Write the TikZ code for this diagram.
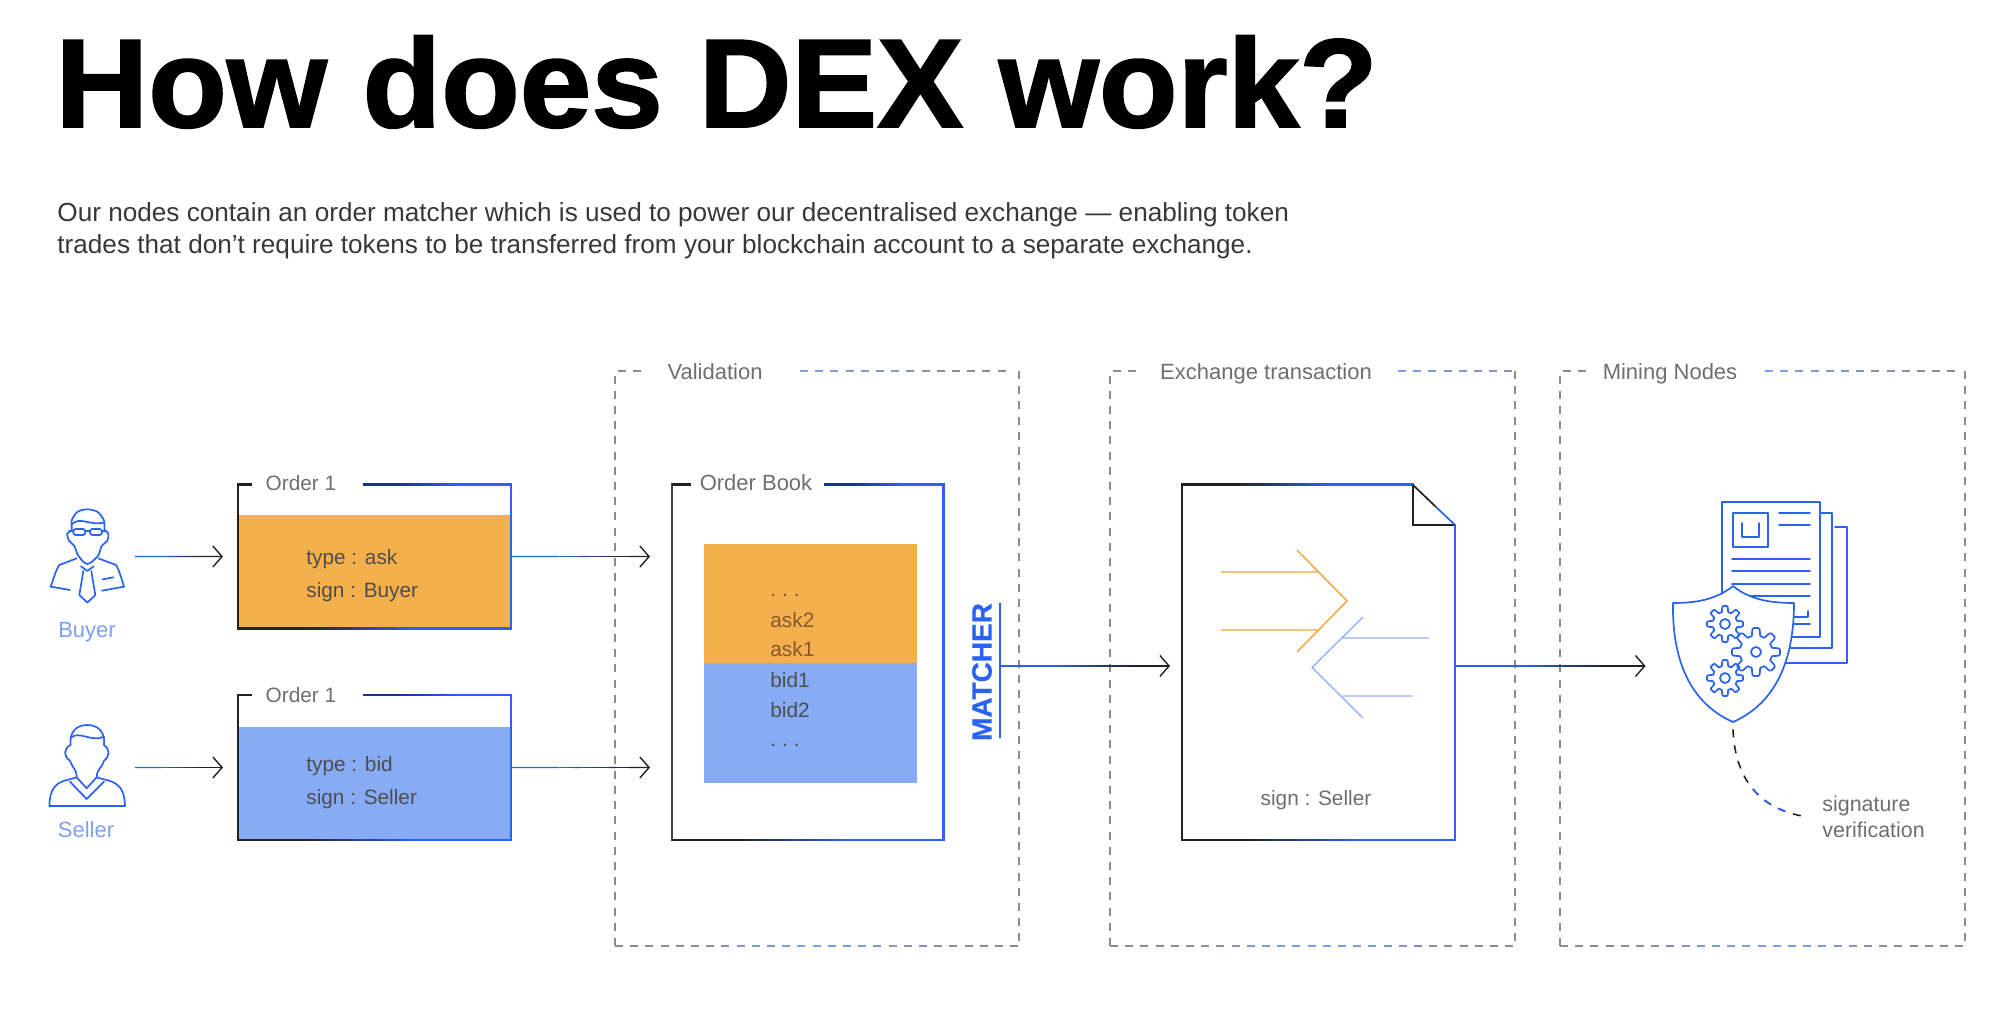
\documentclass[tikz,border=0pt]{standalone}
\usepackage{fontspec}
\setmainfont{Liberation Sans}
\newfontfamily\titlefont{Liberation Sans}[BoldFeatures={FakeBold=1.5,FakeStretch=1.021}]
\newfontfamily\matchfont{Liberation Sans}[BoldFeatures={FakeBold=0.6}]
\usetikzlibrary{arrows.meta,calc}
\definecolor{bl}{HTML}{2A63F2}
\definecolor{lbl}{HTML}{7FA0F2}
\definecolor{ink}{HTML}{222222}
\definecolor{navy}{HTML}{1A2F9E}
\definecolor{dgray}{HTML}{8C8C8C}
\definecolor{orangefill}{HTML}{F5B04E}
\definecolor{bluefill}{HTML}{88ABF6}
\definecolor{chevor}{HTML}{F5A33B}
\definecolor{chevbl}{HTML}{93B3F8}
\definecolor{lab}{HTML}{6E6E6E}
\tikzset{
 px/.style={x=0.5pt,y=-0.5pt},
 conn/.style={line width=0.65pt},
 tipped/.style={-{Straight Barb[length=4.6pt,width=10.5pt,line width=0.7pt]}},
 icon/.style={draw=bl,line width=0.85pt,line join=round,line cap=round},
 dbox/.style={draw=dgray,line width=0.7pt,dash pattern=on 4pt off 3.6pt},
 ttl/.style={inner sep=0pt,anchor=base,font=\fontsize{11}{12}\selectfont,text=lab},
 body/.style={inner sep=0pt,anchor=base west,align=left,font=\fontsize{10.4}{16.5}\selectfont,text=#1},
 hbox/.style={inner sep=0pt,outer sep=0pt,anchor=north west},
 stock/.style={inner sep=0pt,anchor=base west,font=\fontsize{10.4}{12}\selectfont,text=#1},
}
% horizontal box side, colour changing along it in small pieces
\newcommand{\hgrad}[5]{%
 \foreach \i in {0,...,23}{
  \pgfmathsetmacro{\ga}{#1+(#2-#1)*\i/24}
  \pgfmathsetmacro{\gb}{#1+(#2-#1)*(\i+1.1)/24}
  \pgfmathtruncatemacro{\pp}{100*min(1,max(0,(\i/24-0.22)/0.4))}
  \draw[line width=1.1pt,draw=#5!\pp!#4] (\ga,#3) -- (\gb,#3);}}
\newcommand{\vside}[4]{\fill[#4] (#1-1.1,#2) rectangle (#1+1.1,#3);}
% connector: blue, gradient in pieces, then dark with barb
\newcommand{\gradconn}[4]{%
 \draw[conn,draw=bl] (#1) -- ($(#1)!#3!(#2)$);
 \foreach \i in {0,...,9}{
  \pgfmathsetmacro{\ga}{#3+(#4-#3)*\i/10}
  \pgfmathsetmacro{\gb}{#3+(#4-#3)*(\i+1.1)/10}
  \pgfmathtruncatemacro{\pp}{(\i+0.5)*10}
  \draw[conn,draw=ink!\pp!bl] ($(#1)!\ga!(#2)$) -- ($(#1)!\gb!(#2)$);}
 \draw[conn,draw=ink,tipped] ($(#1)!#4!(#2)$) -- (#2);}
% dashes along a horizontal, coloured toward blue by a bump
\newcommand{\dashrow}[5]{% x1,x2,y,colour expression in \xx, colour
 \pgfmathsetmacro{\nxt}{#1+15.2}
 \pgfmathsetmacro{\lastx}{#2}
 \foreach \xx in {#1,\nxt,...,\lastx}{
  \pgfmathtruncatemacro{\pp}{#4}
  \draw[line width=0.7pt,draw=#5!\pp!dgray] (\xx,#3) -- (\xx+8,#3);}}
\newcommand{\gear}[4]{%
 \draw[icon,shift={(#1,#2)}] plot[domain=0:360,samples=121,smooth] (\x:{#3*(0.84+0.16*min(1,max(-1,2.4*cos(8*\x))))}) -- cycle;
 \draw[icon] (#1,#2) circle[radius=#4];}
\begin{document}
\begin{tikzpicture}[px]
\useasboundingbox (0,0) rectangle (1999,1020);
% title and intro
\node[inner sep=0pt,anchor=base west,font=\titlefont\fontsize{63}{66}\bfseries\selectfont,text=black] (title) at (55,127) {How does DEX work?};
\node[body=ink!90,font=\fontsize{13.08}{16}\selectfont] (intro) at (57,254) {Our nodes contain an order matcher which is used to power our decentralised exchange — enabling token\\trades that don’t require tokens to be transferred from your blockchain account to a separate exchange.};

% dashed regions
\foreach \l/\r/\sa/\sb/\tname/\tx/\lab in {615/1019/641/800/val/715/Validation,1110/1515/1137/1398/exg/1266/Exchange transaction,1560/1965/1587/1765/min/1670/Mining Nodes}{
 \draw[dbox] (\l,946) -- (\l,371) -- (\sa,371);
 \draw[dbox] (\r,371) -- (\r,946);
 \dashrow{\sb}{\r-8}{371}{max(0,90-(\xx-\sb)*0.5)}{lbl}
 \dashrow{\l}{\r-8}{946}{max(0,90-abs(\xx-(\l+\r)/2)*0.6)}{lbl}
 \node[ttl] (\tname) at (\tx,380) {\lab};
}

% order boxes
\fill[orangefill] (238,515) rectangle (511,628.6);
\fill[bluefill] (238,727) rectangle (511,840);
\foreach \nm/\t/\b/\stub in {orderA/484.5/628.6/a,orderB/695/840/b}{
 \node[hbox,minimum width=136.5pt,minimum height={(\b-\t)*0.5pt}] (\nm) at (238,\t) {};
 \vside{238}{\t-1.1}{\b+1.1}{ink}
 \fill[ink] (238,\t-1.1) rectangle (252,\t+1.1);
 \hgrad{363}{511}{\t}{navy}{bl}
 \vside{511}{\t-1.1}{\b+1.1}{bl}
 \hgrad{238}{511}{\b}{ink}{bl}
}
\node[ttl,font=\fontsize{10.4}{12}\selectfont] (orderAt) at (301,491) {Order 1};
\node[ttl,font=\fontsize{10.4}{12}\selectfont] (orderBt) at (301,703) {Order 1};
\node[body=ink!80] (orderAx) at (306,598) {type : ask\\sign : Buyer};
\node[body=ink!80] (orderBx) at (306,805) {type : bid\\sign : Seller};

% buyer icon
\node[inner sep=0pt,minimum width=37pt,minimum height=47pt] (buyer) at (87.5,556.5) {};
\begin{scope}[shift={(30,490)},x=0.16667pt,y=-0.16667pt]
 \draw[icon] plot[smooth cycle,tension=.55] coordinates {(172,222)(145,197)(133,168)(117,152)(112,130)(125,120)(125,92)(142,66)(172,58)(203,66)(222,92)(224,120)(235,130)(232,152)(215,168)(204,197)};
 \draw[icon] (125,103) .. controls (150,78) and (180,108) .. (222,98);
 \draw[icon,rounded corners=1.2pt] (130,117) rectangle (166,135);
 \draw[icon,rounded corners=1.2pt] (180,117) rectangle (216,135);
 \draw[icon] (166,122) -- (180,122) (118,122) -- (130,122) (216,122) -- (228,122);
 \draw[icon] (140,205) -- (88,225) .. controls (75,245) and (70,270) .. (62,290) -- (120,300);
 \draw[icon] (205,205) -- (258,225) .. controls (270,245) and (275,270) .. (282,290) -- (216,302);
 \draw[icon] (153,229) -- (172,243) -- (191,229) (160,243) -- (148,315) -- (172,338) -- (196,315) -- (184,243);
 \draw[icon] (218,268) -- (250,262);
\end{scope}
\node[inner sep=0pt,font=\fontsize{11}{12}\selectfont,text=lbl] (buyerl) at (87,632) {Buyer};

% seller icon
\node[inner sep=0pt,minimum width=37pt,minimum height=47pt] (seller) at (87.5,767.5) {};
\begin{scope}[shift={(30,700)},x=0.16667pt,y=-0.16667pt]
 \draw[icon] (140,232) .. controls (142,212) and (128,205) .. (120,182) .. controls (100,170) and (100,145) .. (122,135) .. controls (118,100) and (135,75) .. (172,75) .. controls (208,75) and (226,100) .. (222,135) .. controls (240,145) and (240,170) .. (222,182) .. controls (215,205) and (198,212) .. (200,232) -- (170,265) -- cycle;
 \draw[icon] (124,112) .. controls (150,92) and (185,128) .. (222,110);
 \draw[icon] (140,232) .. controls (100,245) and (60,240) .. (58,318) -- (285,318) .. controls (283,240) and (240,245) .. (200,232);
 \draw[icon] (120,245) -- (170,297) -- (222,245);
\end{scope}
\node[inner sep=0pt,font=\fontsize{11}{12}\selectfont,text=lbl] (sellerl) at (86,830) {Seller};

% order book
\node[hbox,minimum width=135.75pt,minimum height=177.75pt] (book) at (672,484.5) {};
\vside{672}{483.4}{841.1}{ink!85}
\fill[ink] (672,483.4) rectangle (691,485.6);
\hgrad{824}{943.5}{484.5}{navy}{bl}
\vside{943.5}{483.4}{841.1}{bl}
\hgrad{672}{943.5}{840}{ink}{bl}
\node[ttl] (bookt) at (756,491) {Order Book};
\fill[orangefill] (704,544.5) rectangle (917,663);
\fill[bluefill] (704,663) rectangle (917,783);
\foreach \nm/\yy/\col/\tx in {o0/597/brown!70!black/{.\hspace{3pt}.\hspace{3pt}.},o1/628/brown!70!black/ask2,o2/657/brown!70!black/ask1,o3/688/ink!80/bid1,o4/718/ink!80/bid2,o5/747/ink!80/{.\hspace{3pt}.\hspace{3pt}.}}{
 \node[stock=\col] (\nm) at (770,\yy) {\tx};
}

% matcher
\node[inner sep=0pt,rotate=90,font=\matchfont\fontsize{14}{14}\bfseries\selectfont,text=bl] (matcher) at (982,672) {MATCHER};
\draw[line width=0.7pt,draw=bl] (1000,603) -- (1000,738);
\coordinate (matcherOut) at (1000,666);

% transaction document
\node[hbox,minimum width=136.5pt,minimum height=177.75pt] (doc) at (1182,484.5) {};
\vside{1182}{483.4}{841.1}{ink}
\hgrad{1182}{1413}{484.5}{ink}{bl}
\vside{1455}{524}{841.1}{bl}
\hgrad{1182}{1455}{840}{ink}{bl}
\draw[line width=0.85pt,draw=ink] (1413,485) -- (1413,525) -- (1455,525);
\draw[line width=0.85pt,draw=ink] (1413,485) -- (1436,507);
\draw[line width=0.85pt,draw=bl] (1436,507) -- (1455,525);
\draw[line width=0.7pt,draw=chevor] (1221,572) -- (1318,572) (1221,630) -- (1318,630) (1297,550) -- (1347,601) -- (1297,652);
\draw[line width=0.7pt,draw=chevbl] (1429,638) -- (1342,638) (1413,696) -- (1343,696) (1363,617) -- (1312,667.5) -- (1363,718);
\node[ttl,font=\fontsize{10.4}{12}\selectfont] (docs) at (1316,806) {sign : Seller};

% documents behind the shield
\draw[icon] (1835,527) -- (1847,527) -- (1847,663) -- (1785,663);
\draw[icon] (1820,513) -- (1832,513) -- (1832,648) -- (1785,648);
\draw[icon] (1722,600) -- (1722,502) -- (1820,502) -- (1820,637) -- (1785,637);
\draw[icon] (1733,513) rectangle (1768,547);
\draw[icon] (1742,523) -- (1742,537) -- (1759,537) -- (1759,523);
\draw[icon] (1779,513) -- (1810,513) (1779,525) -- (1810,525);
\draw[icon] (1732,559) -- (1810,559) (1732,571) -- (1810,571) (1732,584) -- (1810,584) (1732,596) -- (1810,596);
\draw[icon] (1790,617) -- (1808,617) -- (1808,611) (1790,624) -- (1810,624);
% shield
\draw[icon,fill=white] (1733,586) .. controls (1716,600) and (1695,603) .. (1673,603) .. controls (1672,660) and (1690,703) .. (1733,722) .. controls (1776,703) and (1794,660) .. (1794,603) .. controls (1771,603) and (1750,600) .. (1733,586) -- cycle;
\node[inner sep=0pt,minimum width=61pt,minimum height=68pt] (shield) at (1733,654) {};
\gear{1725}{624}{18}{5}
\gear{1756}{652}{24}{5}
\gear{1725}{678}{18}{5}

% connectors
\coordinate (buyerArrowEnd) at ($(orderA.west)+(-15,0)$);
\coordinate (sellerArrowEnd) at ($(orderB.west)+(-15,0)$);
\coordinate (buyerArrowStart) at ($(buyer.east)+(10,0)$);
\coordinate (sellerArrowStart) at ($(seller.east)+(10,0)$);
\coordinate (aEnd) at ($(orderA.east -| book.west)+(-22,0)$);
\coordinate (bEnd) at ($(orderB.east -| book.west)+(-22,0)$);
\coordinate (mEnd) at ($(matcherOut -| doc.west)+(-12,0)$);
\coordinate (docOut) at (matcherOut -| doc.east);
\coordinate (sEnd) at ($(matcherOut -| shield.west)+(-26,0)$);
\gradconn{buyerArrowStart}{buyerArrowEnd}{0.3}{0.75}
\gradconn{sellerArrowStart}{sellerArrowEnd}{0.3}{0.75}
\gradconn{orderA.east}{aEnd}{0.35}{0.85}
\gradconn{orderB.east}{bEnd}{0.35}{0.85}
\gradconn{matcherOut}{mEnd}{0.3}{0.8}
\gradconn{docOut}{sEnd}{0.35}{0.8}

% signature verification
\coordinate (sigStart) at ($(shield.south)+(0,7)$);
\node[body=lab,font=\fontsize{10.7}{13.2}\selectfont] (sig) at (1822,838) {signature\\verification};
\coordinate (sigEnd) at (1802,816);
\draw[line width=0.8pt,draw=ink,dash pattern=on 4pt off 4pt] (sigStart) .. controls (1735,780) and (1760,808) .. (sigEnd);
\begin{scope}
 \clip (1750,785) rectangle (1785,820);
 \draw[line width=0.8pt,draw=bl,dash pattern=on 4pt off 4pt] (sigStart) .. controls (1735,780) and (1760,808) .. (sigEnd);
\end{scope}
\end{tikzpicture}
\end{document}
